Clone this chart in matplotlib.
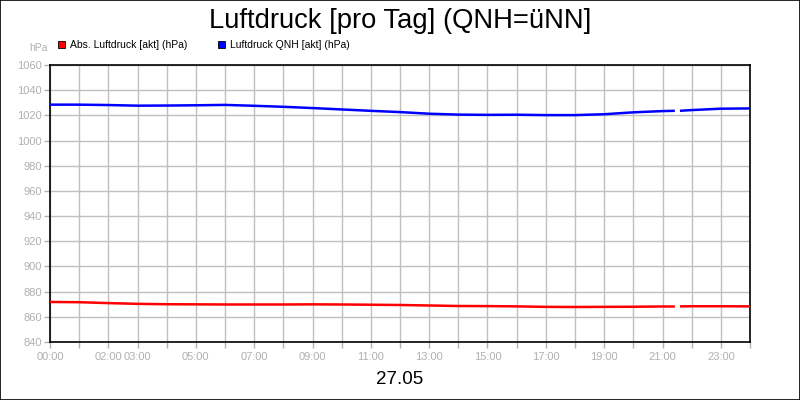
import numpy as np
import matplotlib
matplotlib.use("Agg")
import matplotlib.pyplot as plt
from matplotlib.patches import Rectangle

plt.rcParams['font.family'] = ['Liberation Sans', 'DejaVu Sans']

# Zeitpunkte in Stunden (Luecke in den Daten um ca. 21:30)
stunden = [0, 1, 2, 3, 4, 5, 6, 7, 8, 9, 10, 11, 12, 13, 14, 15, 16, 17, 18,
           19, 20, 21, 21.38, 21.5, 21.64, 22, 23, 24]
qnh = [1028.5, 1028.5, 1028.2, 1027.7, 1027.8, 1028.0, 1028.3, 1027.6, 1026.8,
       1025.8, 1024.7, 1023.6, 1022.6, 1021.3, 1020.6, 1020.4, 1020.5, 1020.2,
       1020.2, 1020.9, 1022.4, 1023.4, 1023.6, np.nan, 1023.7, 1024.2, 1025.3,
       1025.5]
abs_druck = [871.8, 871.6, 870.9, 870.3, 870.0, 869.9, 869.8, 869.8, 869.8,
             869.9, 869.8, 869.6, 869.4, 869.0, 868.6, 868.5, 868.3, 867.9,
             867.8, 867.9, 868.0, 868.2, 868.2, np.nan, 868.3, 868.4, 868.4,
             868.3]

x_ticks = list(range(25))
x_labels = {0: "00:00", 2: "02:00", 3: "03:00", 5: "05:00", 7: "07:00",
            9: "09:00", 11: "11:00", 13: "13:00", 15: "15:00", 17: "17:00",
            19: "19:00", 21: "21:00", 23: "23:00"}
y_ticks = list(range(840, 1061, 20))

grau = "#b0b0b0"

fig = plt.figure(figsize=(8, 4), dpi=100)
fig.patch.set_facecolor("white")
ax = fig.add_axes([0.0625, 0.145, 0.875, 0.6925])

ax.plot(stunden, abs_druck, color="#ff0000", lw=1.8, zorder=3)
ax.plot(stunden, qnh, color="#0000ff", lw=1.8, zorder=3)

ax.set_xlim(0, 24)
ax.set_ylim(840, 1060)
ax.set_xticks(x_ticks)
ax.set_xticklabels([x_labels.get(t, "") for t in x_ticks])
ax.set_yticks(y_ticks)
ax.grid(True, color="#c0c0c0", lw=1.0)
ax.set_axisbelow(True)
ax.tick_params(axis="both", colors=grau, labelsize=8, length=4, width=1,
               labelcolor=grau)
ax.tick_params(axis="x", pad=3)
ax.tick_params(axis="y", pad=2)
for s in ax.spines.values():
    s.set_color("black")
    s.set_linewidth(1.2)

fig.text(0.5, 0.948, "Luftdruck [pro Tag] (QNH=üNN]", ha="center",
         va="center", fontsize=19.7)
fig.text(0.5, 0.05, "27.05", ha="center", va="center", fontsize=13.5)
fig.text(0.048, 0.88, "hPa", ha="center", va="center", fontsize=7.5,
         color=grau)

# Legende oben links
for x0, farbe, text in [(58, "#ff0000", "Abs. Luftdruck [akt] (hPa)"),
                        (218, "#0000ff", "Luftdruck QNH [akt] (hPa)")]:
    fig.patches.append(Rectangle((x0 / 800, (400 - 48) / 400), 7 / 800,
                                 7 / 400, transform=fig.transFigure,
                                 facecolor=farbe, edgecolor="black", lw=0.6))
    fig.text((x0 + 12) / 800, (400 - 44.5) / 400, text, ha="left",
             va="center", fontsize=7.5)

# Rahmen um das Bild
fig.patches.append(Rectangle((0.0006, 0.0012), 0.9988, 0.9976,
                             transform=fig.transFigure, fill=False,
                             edgecolor="black", lw=1.2))

fig.savefig("out.png", dpi=100)
